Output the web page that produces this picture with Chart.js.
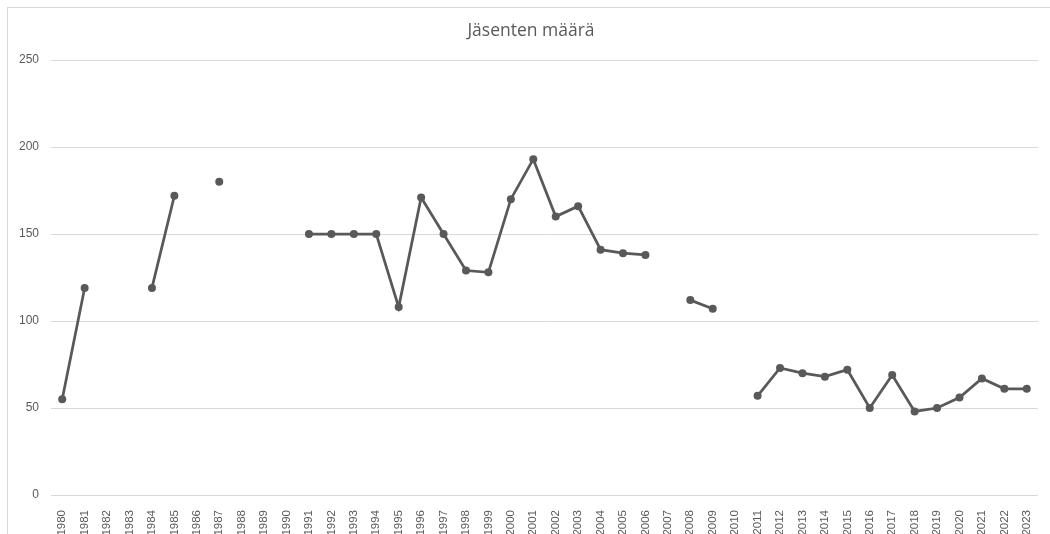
<!DOCTYPE html>
<html>
<head>
<meta charset="utf-8">
<script src="https://cdn.jsdelivr.net/npm/chart.js@4.4.0/dist/chart.umd.min.js"></script>
<style>
  html, body { margin: 0; padding: 0; background: #fff; overflow: hidden; }
  #frame {
    position: absolute; left: 7px; top: 7px; width: 1050px; height: 560px;
    border: 1px solid #d9d9d9; box-sizing: border-box;
  }
  #wrap { position: absolute; left: 0; top: 0; width: 1050px; height: 534px; }
</style>
</head>
<body>
<div id="frame"></div>
<div id="wrap"><canvas id="membersChart"></canvas></div>
<script>
// Years on the x axis
const years = [];
for (let y = 1980; y <= 2023; y++) years.push(String(y));

// Member counts (null = no data for that year)
const members = [
  55, 119, null, null, 119, 172, null, 180, null, null,
  null, 150, 150, 150, 150, 108, 171, 150, 129, 128,
  170, 193, 160, 166, 141, 139, 138, null, 112, 107,
  null, 57, 73, 70, 68, 72, 50, 69, 48, 50,
  56, 67, 61, 61
];

const yTicks = [0, 50, 100, 150, 200, 250];

// nudge the title a bit right so it sits over the middle of the frame
const titleShift = {
  id: "titleShift",
  afterLayout(chart) {
    if (chart.titleBlock) {
      chart.titleBlock.left += 6;
      chart.titleBlock.right += 6;
    }
  },
};

const ctx = document.getElementById("membersChart").getContext("2d");
const membersChart = new Chart(ctx, {
  type: "line",
  data: {
    labels: years,
    datasets: [
      {
        label: "Jäsenten määrä",
        data: members,
        borderColor: "#595959",
        backgroundColor: "#595959",
        borderWidth: 2.75,
        pointRadius: 4,
        pointBorderWidth: 0,
        pointHoverRadius: 4,
        spanGaps: false,
        tension: 0,
      },
    ],
  },
  options: {
    responsive: true,
    maintainAspectRatio: false,
    animation: false,
    layout: { padding: { left: 12, right: 12, top: 0, bottom: 0 } },
    plugins: {
      legend: { display: false },
      tooltip: { enabled: false },
      title: {
        display: true,
        text: "Jäsenten määrä",
        color: "#595959",
        font: { family: "Open Sans", size: 17.5, weight: "normal" },
        padding: { top: 21, bottom: 18 },
      },
    },
    scales: {
      x: {
        offset: true,
        grid: { display: false },
        border: { display: false },
        afterFit: (scale) => {
          scale.height = 39;
        },
        ticks: {
          color: "#595959",
          font: { family: "Liberation Sans", size: 11.5 },
          minRotation: 90,
          maxRotation: 90,
          autoSkip: false,
          padding: 7,
        },
      },
      y: {
        min: 0,
        max: 250,
        afterBuildTicks: (scale) => {
          scale.ticks = yTicks.map((v) => ({ value: v }));
        },
        afterFit: (scale) => {
          scale.width = 39;
        },
        grid: { color: "#d9d9d9", lineWidth: 1, drawTicks: false },
        border: { display: false },
        ticks: {
          color: "#595959",
          font: { family: "Liberation Sans", size: 12 },
          padding: 12,
        },
      },
    },
  },
  plugins: [titleShift],
});
</script>
</body>
</html>
